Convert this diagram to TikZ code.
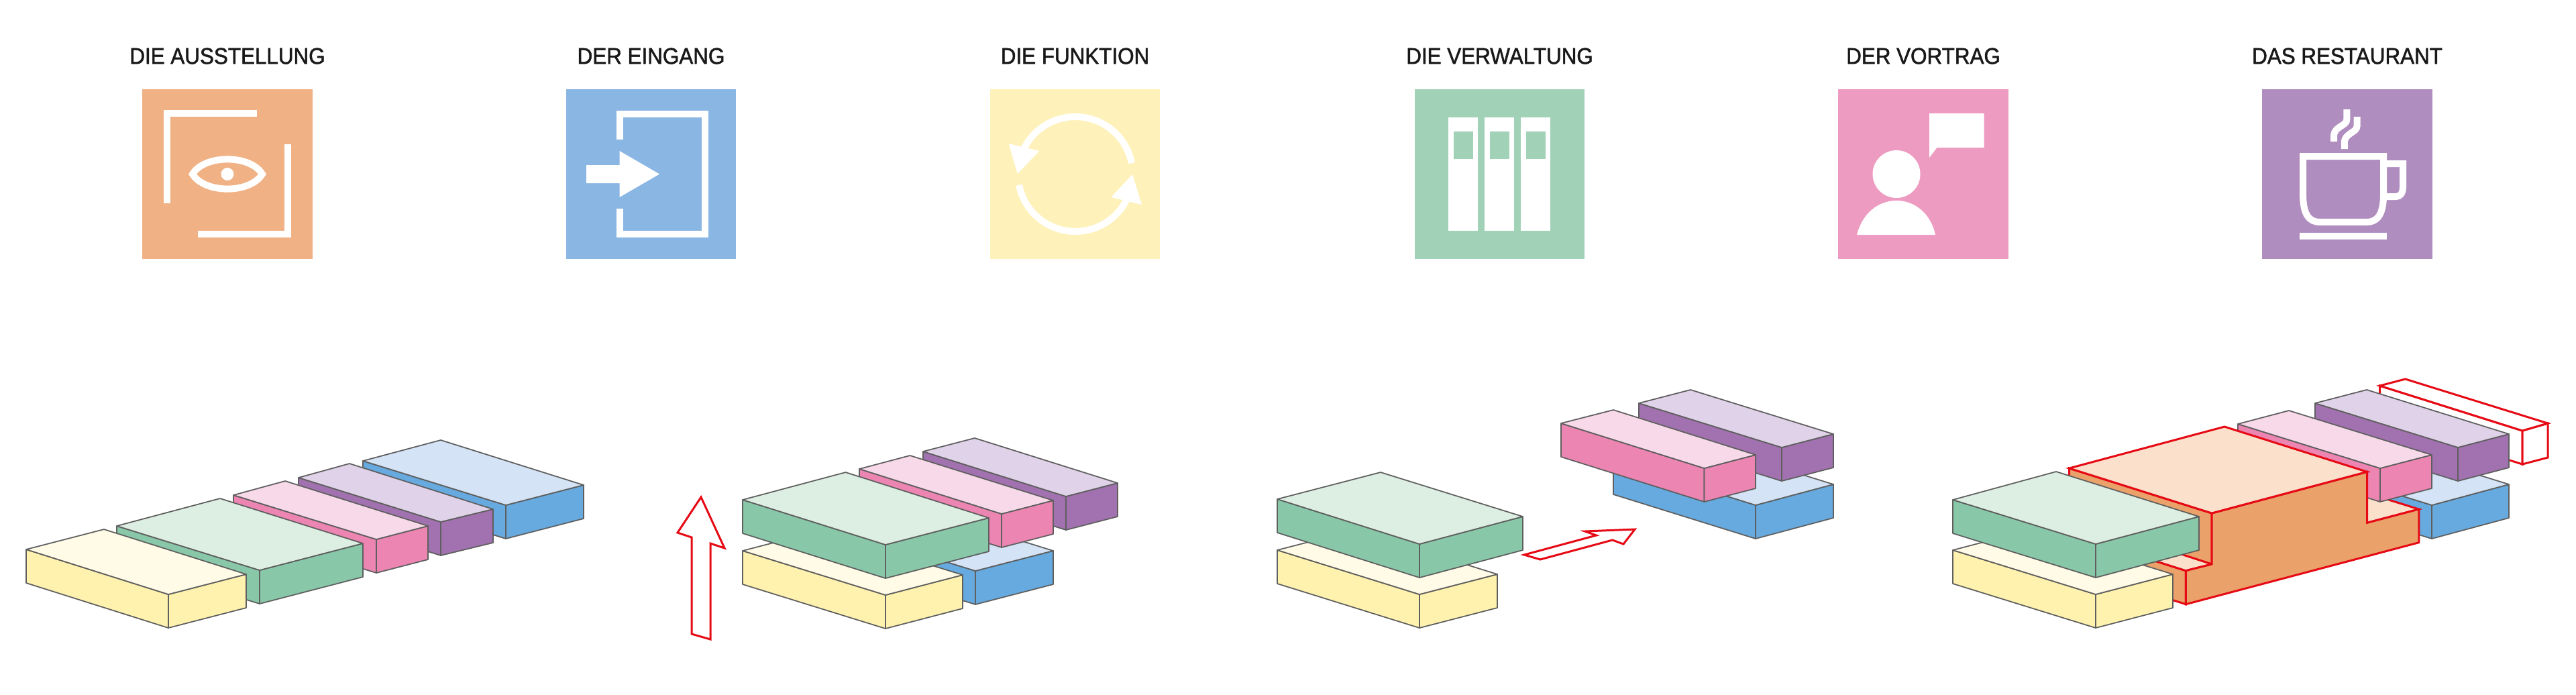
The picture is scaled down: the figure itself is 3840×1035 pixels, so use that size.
\documentclass[tikz,border=0pt]{standalone}
\usepackage{fontspec}
\newfontfamily\titlefont{Liberation Sans}[FakeBold=1.6, FakeStretch=0.93]
\usetikzlibrary{positioning, calc}
\definecolor{iconorange}{RGB}{240, 177, 132}
\definecolor{iconblue}{RGB}{138, 182, 227}
\definecolor{iconyellow}{RGB}{254, 242, 186}
\definecolor{icongreen}{RGB}{161, 209, 183}
\definecolor{iconpink}{RGB}{237, 155, 193}
\definecolor{iconpurple}{RGB}{176, 141, 191}
\definecolor{yellowside}{RGB}{254, 242, 174}
\definecolor{yellowsidelt}{RGB}{255, 251, 230}
\definecolor{greenside}{RGB}{136, 200, 169}
\definecolor{greensidelt}{RGB}{221, 238, 226}
\definecolor{pinkside}{RGB}{236, 133, 178}
\definecolor{pinksidelt}{RGB}{248, 217, 233}
\definecolor{purpleside}{RGB}{162, 114, 176}
\definecolor{purplesidelt}{RGB}{224, 210, 233}
\definecolor{blueside}{RGB}{102, 170, 223}
\definecolor{bluesidelt}{RGB}{212, 227, 245}
\definecolor{orangeside}{RGB}{234, 162, 106}
\definecolor{orangesidelt}{RGB}{251, 224, 204}
\definecolor{edgegray}{RGB}{95, 95, 95}
\definecolor{outlinered}{RGB}{230, 10, 20}
% block: colour, then left, back, right and front corner of the top face
\newcommand{\block}[5]{
  \draw[edge, fill=#1] #2 -- #5 -- ($#5+(0,50)$) -- ($#2+(0,50)$) -- cycle;
  \draw[edge, fill=#1] #5 -- #4 -- ($#4+(0,50)$) -- ($#5+(0,50)$) -- cycle;
  \draw[edge, fill=#1lt] #2 -- #3 -- #4 -- #5 -- cycle;
}
\begin{document}
\begin{tikzpicture}[
    x=0.01cm, y=-0.01cm,
    iconbox/.style={rectangle, fill=#1, minimum width=2.53cm, minimum height=2.53cm, inner sep=0pt},
    title/.style={font=\titlefont\fontsize{9.6}{12}\selectfont, inner sep=0pt, text=black!90},
    stroke/.style={draw=white, line width=0.1cm},
    edge/.style={draw=edgegray, line width=0.5pt, line join=round},
    redline/.style={draw=outlinered, line width=0.85pt, line join=miter},
  ]
  \useasboundingbox (0,0) rectangle (3840,1035);

  \node[iconbox=iconorange] (ausstellung) at (339,259.5) {};
  \node[iconbox=iconblue] (eingang) at (970.5,259.5) {};
  \node[iconbox=iconyellow] (funktion) at (1602.5,259.5) {};
  \node[iconbox=icongreen] (verwaltung) at (2235.5,259.5) {};
  \node[iconbox=iconpink] (vortrag) at (2867,259.5) {};
  \node[iconbox=iconpurple] (restaurant) at (3499,259.5) {};

  \node[title, above=0.36cm of ausstellung] (t1) {DIE AUSSTELLUNG};
  \node[title, above=0.36cm of eingang] (t2) {DER EINGANG};
  \node[title, above=0.36cm of funktion] (t3) {DIE FUNKTION};
  \node[title, above=0.36cm of verwaltung] (t4) {DIE VERWALTUNG};
  \node[title, above=0.36cm of vortrag] (t5) {DER VORTRAG};
  \node[title, above=0.36cm of restaurant] (t6) {DAS RESTAURANT};

  % Eye
  \draw[stroke] (383,169) -- (249,169) -- (249,303);
  \draw[stroke] (295,349) -- (429,349) -- (429,215);
  \draw[stroke] (287,259.5) .. controls (305,230) and (373,230) .. (391,259.5)
    .. controls (373,289) and (305,289) .. (287,259.5) -- cycle;
  \fill[white] (339,259.5) circle (9.5);

  % Door
  \draw[stroke] (924,208) -- (924,170) -- (1051,170) -- (1051,349) -- (924,349) -- (924,311);
  \fill[white] (874,246) -- (923.5,246) -- (923.5,225) -- (983,259.5) -- (923.5,294) -- (923.5,273) -- (874,273) -- cycle;

  % Cycle
  \draw[stroke] plot[smooth, samples=30, domain=11:153] ({1603+85.5*cos(\x)},{259.5-85.5*sin(\x)});
  \draw[stroke] plot[smooth, samples=30, domain=191:333] ({1603+85.5*cos(\x)},{259.5-85.5*sin(\x)});
  \fill[white] (1503.7,214) -- (1549.4,225) -- (1516.7,259) -- cycle;
  \fill[white] (1688,260) -- (1702,305) -- (1656.3,294) -- cycle;

  % Binders
  \foreach \x in {2159,2213,2267} {
    \fill[white] (\x,175) rectangle ++(44,169);
    \fill[icongreen] ($(\x,196)+(7.5,0)$) rectangle ++(29,41);
  }

  % Speaker
  \fill[white] (2876,169) -- (2957.5,169) -- (2957.5,220) -- (2887.3,220) -- (2876,235) -- cycle;
  \fill[white] (2827,259.5) circle (35.5);
  \fill[white] (2768,350) .. controls (2776,318) and (2800,299) .. (2827,299)
    .. controls (2854,299) and (2878,318) .. (2885,350) -- cycle;

  % Cup
  \draw[stroke] (3433,233) -- (3553,233) -- (3553,290) .. controls (3553,318) and (3545,331) .. (3528,331)
    -- (3458,331) .. controls (3441,331) and (3433,318) .. (3433,290) -- cycle;
  \draw[stroke] (3557,244) -- (3582,244) -- (3582,278) .. controls (3582,288) and (3578,293) .. (3572,293) -- (3557,293);
  \fill[white] (3428,347) rectangle (3557.6,357);
  \draw[stroke] (3498.4,163) -- (3498.4,178) .. controls (3498.4,188) and (3479,188) .. (3479,203) -- (3479,211);
  \draw[stroke] (3513.5,174) -- (3513.5,188) .. controls (3513.5,198) and (3494.7,198) .. (3494.7,213) -- (3494.7,222);

  % Row of five
  \block{blueside}{(541,687)}{(657,656)}{(870,723)}{(754,753)}
  \block{purpleside}{(445,712)}{(521,691)}{(735,759)}{(657,778)}
  \block{pinkside}{(348,738)}{(425,717)}{(638,784)}{(561,804)}
  \block{greenside}{(174,784)}{(328,743)}{(541,810)}{(387,850)}
  \block{yellowside}{(39,819)}{(155,789)}{(367,856)}{(251,886)}

  % Lift
  \draw[redline, fill=white] (1045,741) -- (1080,817) -- (1059,810) -- (1059,953) -- (1031,945) -- (1031,801) -- (1010,794) -- cycle;
  \block{blueside}{(1241,785)}{(1357,755)}{(1570,821)}{(1454,851)}
  \block{yellowside}{(1107,821)}{(1222,791)}{(1435,857)}{(1320,887)}
  \block{purpleside}{(1376,673)}{(1453,653)}{(1666,720)}{(1589,740)}
  \block{pinkside}{(1281,699)}{(1356.5,679)}{(1570,746)}{(1493,766)}
  \block{greenside}{(1107,745)}{(1260.5,704)}{(1474,772)}{(1320,812)}

  % Shift
  \block{blueside}{(2405,687)}{(2521,656)}{(2733,722)}{(2617,753)}
  \block{purpleside}{(2443,601)}{(2520,581)}{(2733,647)}{(2656,667)}
  \block{pinkside}{(2327,631)}{(2405,611)}{(2617,678)}{(2540.5,698)}
  \block{yellowside}{(1904,820)}{(2020,790)}{(2232,856)}{(2116,886)}
  \block{greenside}{(1904,744)}{(2058,704)}{(2270,770)}{(2116,811)}
  \draw[redline, fill=white] (2272,827) -- (2296,834) -- (2403.6,805) -- (2420,811) -- (2437,789) -- (2362.6,792) -- (2379.5,798) -- cycle;

  % Restaurant
  \draw[redline, fill=white] (3547.5,575) -- (3760,642) -- (3760,692) -- (3547.5,625) -- cycle;
  \draw[redline, fill=white] (3760,642) -- (3798,631) -- (3798,682) -- (3760,692) -- cycle;
  \draw[redline, fill=white] (3547.5,575) -- (3585.5,565) -- (3798,631) -- (3760,642) -- cycle;
  \block{blueside}{(3412,687)}{(3527,656)}{(3740,722)}{(3625,753)}
  \block{purpleside}{(3451,601)}{(3528,581)}{(3740,647)}{(3664,667)}
  \fill[orangesidelt] (3528.5,779.3) -- (3605.7,759) -- (3528.5,735) -- cycle;
  \draw[redline] (3528.5,779.3) -- (3605.7,759) -- (3528.5,735);
  \block{pinkside}{(3336,632)}{(3412,612)}{(3625,678)}{(3548,698)}
  \draw[redline, fill=orangeside] (3084.5,698) -- (3297,765) -- (3297,841) -- (3259,829) -- (3084.5,774) -- cycle;
  \draw[redline, fill=orangeside] (3258.4,850.7) -- (3258.4,900.7) -- (3152,867) -- (3152,817) -- cycle;
  \draw[redline, fill=orangesidelt] (3297,841) -- (3258.4,850.7) -- (3194.8,830.6) -- (3233,820) -- cycle;
  \draw[redline, fill=orangeside] (3297,765) -- (3528.5,703.3) -- (3528.5,779.3) -- (3605.7,759) -- (3605.7,808.7) -- (3258.4,900.7) -- (3258.4,850.7) -- (3297,841) -- cycle;
  \draw[redline, fill=orangesidelt] (3084.5,698) -- (3316,636) -- (3528.5,703.3) -- (3297,765) -- cycle;
  \block{yellowside}{(2911,820)}{(3026,790)}{(3239,856)}{(3124,886)}
  \block{greenside}{(2911,745)}{(3065,703)}{(3278,770)}{(3124,811)}

\end{tikzpicture}
\end{document}
